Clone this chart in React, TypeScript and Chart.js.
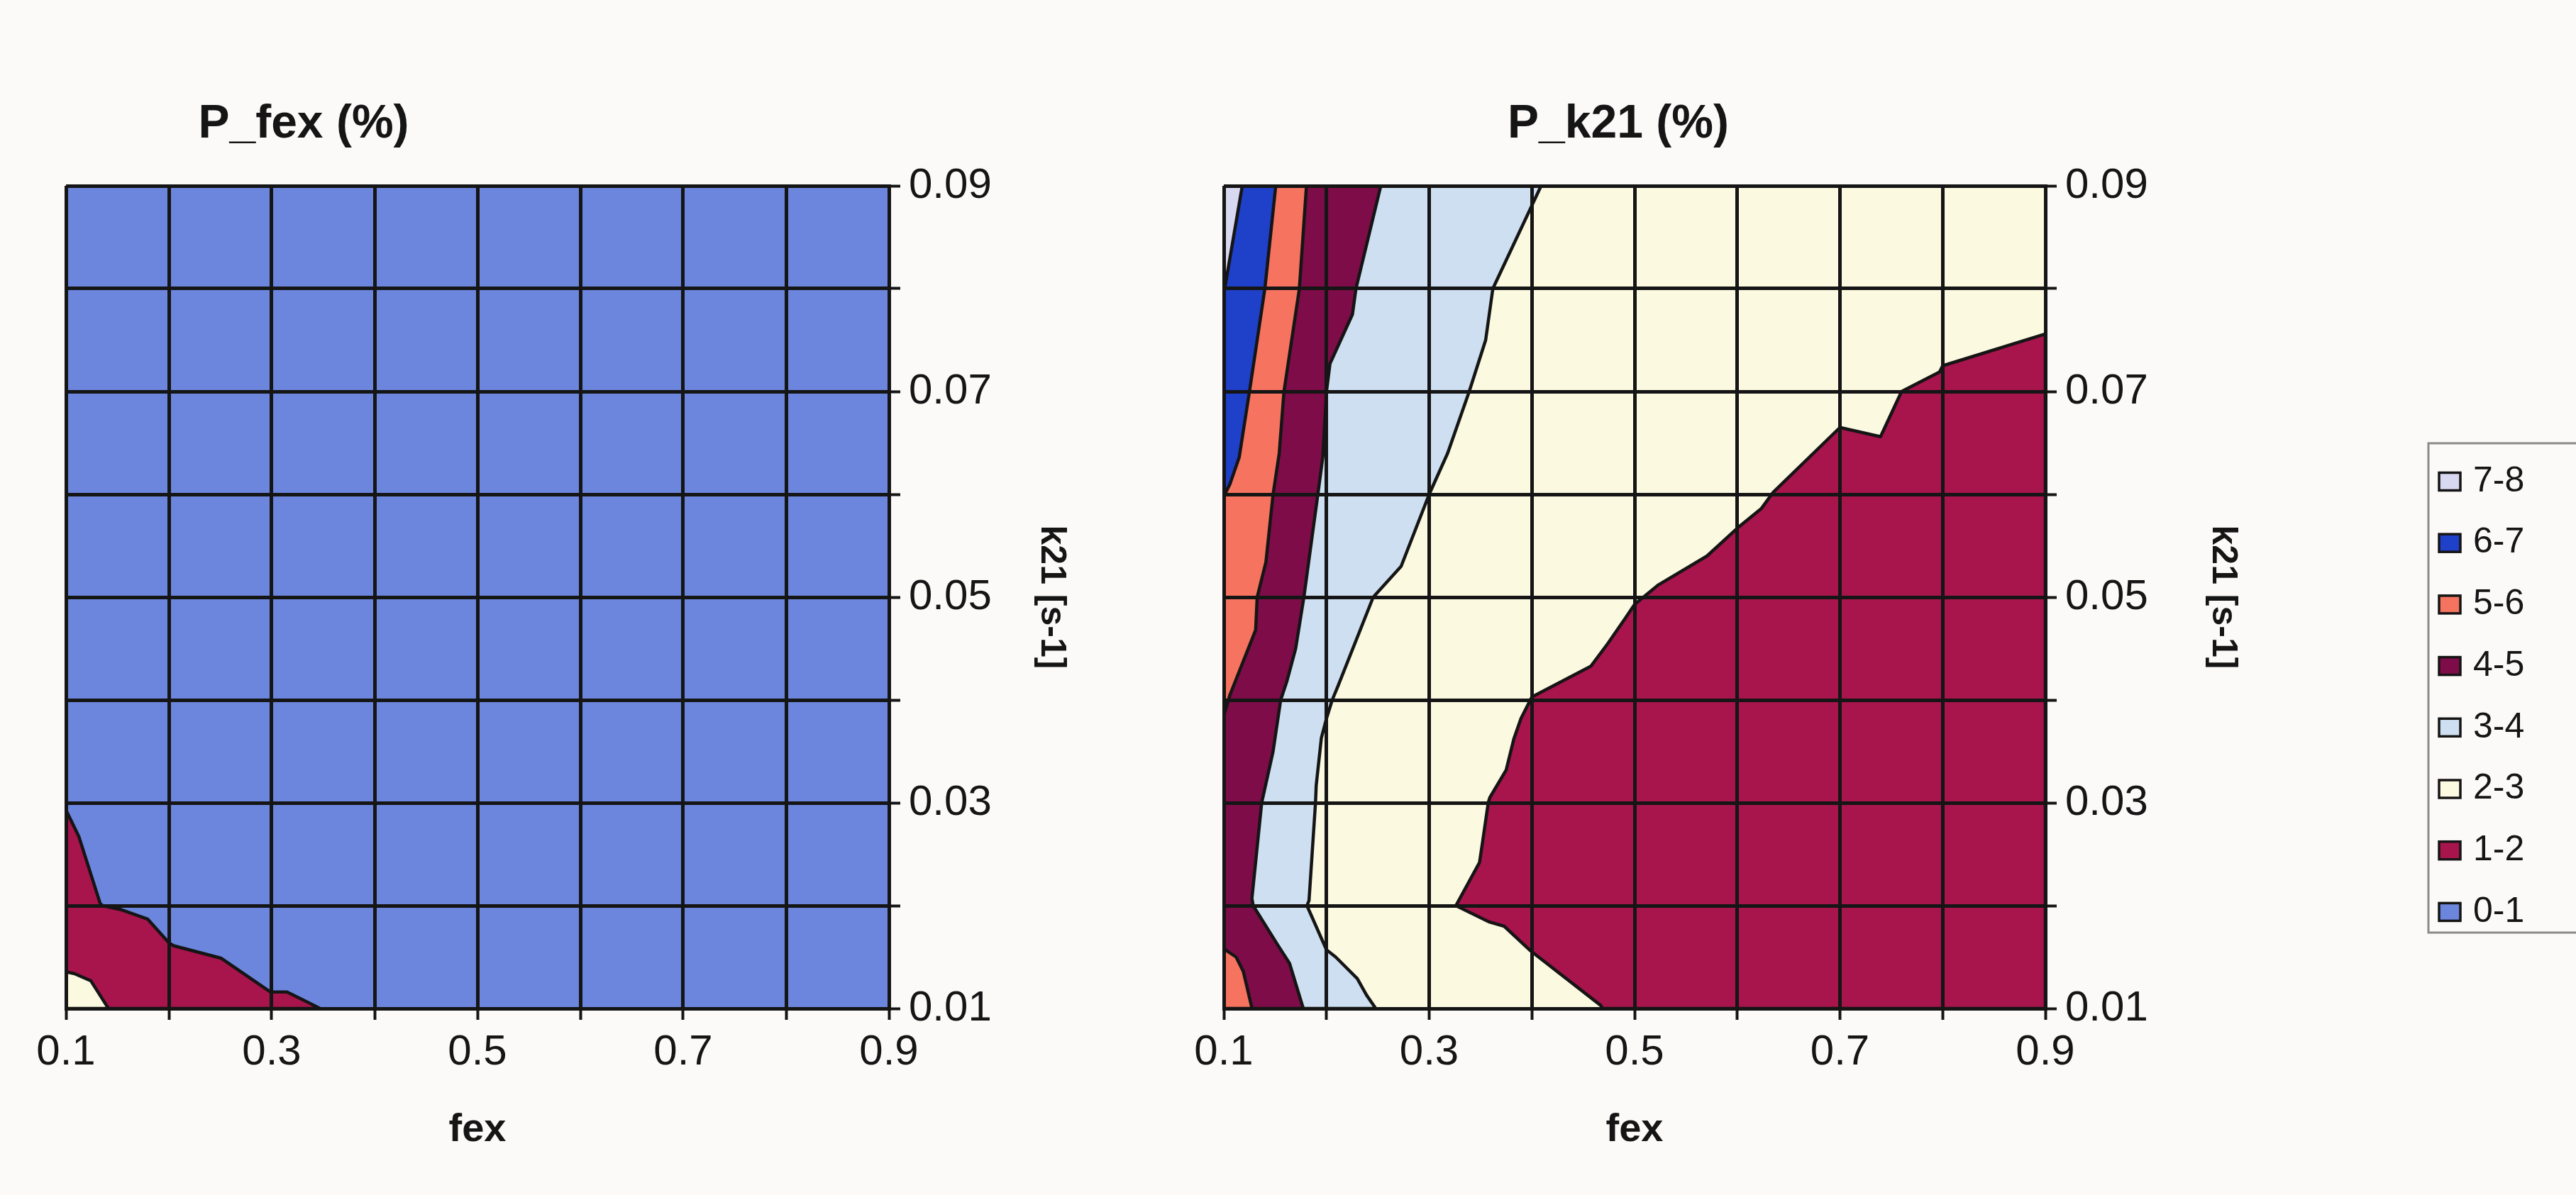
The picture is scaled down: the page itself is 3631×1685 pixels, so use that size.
import React, { useEffect, useRef } from 'react';
import { Chart, registerables } from 'chart.js';

Chart.register(...registerables);

// ---------- data ----------
const FEX_RANGE = [0.1, 0.9];
const K21_RANGE = [0.01, 0.09];
const FEX_TICK_LABELS = ['0.1', '0.3', '0.5', '0.7', '0.9'];
const K21_TICK_LABELS = ['0.01', '0.03', '0.05', '0.07', '0.09'];
const BAND_LABELS = ['0-1', '1-2', '2-3', '3-4', '4-5', '5-6', '6-7', '7-8'];

// P_fex: background band 0-1, regions where P_fex >= level (fex, k21)
const PFEX_BACKGROUND_BAND = 0;
const PFEX_GE1 = [
  [0.1, 0.0293], [0.1126, 0.0267], [0.1333, 0.0202], [0.1356, 0.02], [0.154, 0.0196],
  [0.1793, 0.0187], [0.2, 0.0164], [0.2046, 0.0161], [0.2506, 0.0149], [0.2989, 0.0116],
  [0.3149, 0.0116], [0.333, 0.0107], [0.347, 0.01], [0.1, 0.01],
];
const PFEX_GE2 = [
  [0.1, 0.01356], [0.108, 0.0134], [0.1241, 0.0127], [0.14, 0.0102], [0.1414, 0.01], [0.1, 0.01],
];

// P_k21: background band 2-3
const PK21_BACKGROUND_BAND = 2;
const PK21_LE2 = [
  [0.9, 0.0756], [0.8, 0.0725], [0.797, 0.0719], [0.76, 0.07], [0.7395, 0.0656], [0.7, 0.0665],
  [0.635, 0.0602], [0.6233, 0.0586], [0.6, 0.0567], [0.5705, 0.054], [0.5233, 0.0512], [0.5, 0.0493],
  [0.4906, 0.0479], [0.474, 0.0455], [0.4576, 0.0433], [0.4, 0.0403], [0.3894, 0.0382],
  [0.3824, 0.0362], [0.375, 0.0332], [0.359, 0.0305], [0.3575, 0.03], [0.3517, 0.026],
  [0.349, 0.0242], [0.326, 0.02], [0.3588, 0.0184], [0.373, 0.018], [0.3988, 0.0156],
  [0.467, 0.0103], [0.469, 0.01], [0.9, 0.01],
];
const PK21_GE3 = [
  [0.1, 0.09], [0.409, 0.09], [0.362, 0.08], [0.355, 0.075], [0.339, 0.07], [0.318, 0.064],
  [0.3, 0.06], [0.2727, 0.053], [0.2455, 0.05], [0.2114, 0.0414], [0.2056, 0.04], [0.2, 0.0382],
  [0.195, 0.0363], [0.19, 0.0317], [0.1893, 0.03], [0.183, 0.0205], [0.181, 0.02], [0.2, 0.0157],
  [0.209, 0.015], [0.23, 0.0129], [0.239, 0.0113], [0.248, 0.01], [0.1, 0.01],
];
const PK21_GE4 = [
  [0.1, 0.09], [0.2529, 0.09], [0.2287, 0.08], [0.2253, 0.0775], [0.2034, 0.0727], [0.2, 0.07],
  [0.1964, 0.0636], [0.1916, 0.06], [0.178, 0.05], [0.17, 0.045], [0.1614, 0.0418], [0.1554, 0.04],
  [0.148, 0.035], [0.1369, 0.03], [0.1274, 0.0207], [0.1286, 0.02], [0.1524, 0.0162],
  [0.164, 0.0144], [0.1774, 0.01], [0.1, 0.01],
];
const PK21_GE5_UPPER = [
  [0.1, 0.09], [0.1805, 0.09], [0.1736, 0.08], [0.1586, 0.07], [0.154, 0.064], [0.148, 0.06],
  [0.141, 0.0534], [0.1325, 0.05], [0.131, 0.0468], [0.106, 0.0405], [0.1, 0.0385],
];
const PK21_GE5_LOWER = [
  [0.1, 0.0158], [0.112, 0.015], [0.119, 0.0136], [0.1275, 0.01], [0.1, 0.01],
];
const PK21_GE6 = [
  [0.1, 0.09], [0.1506, 0.09], [0.14, 0.08], [0.125, 0.07], [0.115, 0.0636], [0.106, 0.061], [0.1, 0.0598],
];
const PK21_GE7 = [
  [0.1, 0.09], [0.118, 0.09], [0.1, 0.0795],
];

// ---------- styles ----------
const BAND_COLORS = ['#6b86dc', '#a8144c', '#fcf9e1', '#cddff0', '#7e0c48', '#f5735f', '#1f40c8', '#d8d8f0'];
const BG = '#fcf9f9';
const INK = '#151515';
const FONT = "'Liberation Sans', Arial, Helvetica, sans-serif";

Chart.defaults.font.family = FONT;
Chart.defaults.color = INK;

const polygonFill = {
  id: 'polygonFill',
  beforeDatasetDraw(chart: any, args: any) {
    const ds: any = chart.data.datasets[args.index];
    if (!ds.polyFill) return;
    const pts = args.meta.data;
    const { ctx, chartArea } = chart;
    ctx.save();
    ctx.beginPath();
    ctx.rect(chartArea.left, chartArea.top, chartArea.right - chartArea.left, chartArea.bottom - chartArea.top);
    ctx.clip();
    ctx.beginPath();
    pts.forEach((p: any, i: number) => (i ? ctx.lineTo(p.x, p.y) : ctx.moveTo(p.x, p.y)));
    ctx.closePath();
    ctx.fillStyle = ds.polyFill;
    ctx.fill();
    ctx.restore();
  },
};

const panelTitle = {
  id: 'panelTitle',
  afterDraw(chart: any, _args: any, opts: any) {
    if (!opts || !opts.text) return;
    const { ctx } = chart;
    ctx.save();
    ctx.font = `bold ${opts.size}px ${FONT}`;
    ctx.fillStyle = INK;
    ctx.textAlign = 'center';
    ctx.textBaseline = 'middle';
    ctx.fillText(opts.text, opts.x, opts.y);
    ctx.restore();
  },
};

const bandLegend = {
  id: 'bandLegend',
  afterDraw(chart: any, _args: any, opts: any) {
    if (!opts || !opts.display) return;
    const { ctx } = chart;
    ctx.save();
    ctx.strokeStyle = '#8a8a8a';
    ctx.lineWidth = 3;
    ctx.strokeRect(opts.left, opts.top, opts.width, opts.bottom - opts.top);
    ctx.font = `${opts.fontSize}px ${FONT}`;
    ctx.textBaseline = 'middle';
    ctx.textAlign = 'left';
    const order = BAND_LABELS.map((_, i) => i).reverse();
    order.forEach((band, k) => {
      const cy = opts.firstY + k * opts.spacing;
      ctx.fillStyle = BAND_COLORS[band];
      ctx.fillRect(opts.boxX, cy - opts.boxH / 2, opts.boxW, opts.boxH);
      ctx.strokeStyle = INK;
      ctx.lineWidth = 3.5;
      ctx.strokeRect(opts.boxX, cy - opts.boxH / 2, opts.boxW, opts.boxH);
      ctx.fillStyle = INK;
      ctx.fillText(BAND_LABELS[band], opts.textX, cy);
    });
    ctx.restore();
  },
};

function tickLabel(value: number, labels: string[]) {
  const hit = labels.find((l) => Math.abs(parseFloat(l) - value) < 1e-6);
  return hit ?? '';
}

function regionDataset(points: number[][], band: number, drawIndex: number, stroke = true) {
  const closed = [...points, points[0]];
  return {
    data: closed.map(([x, y]) => ({ x, y })),
    showLine: true,
    polyFill: BAND_COLORS[band],
    borderColor: stroke ? INK : 'rgba(0,0,0,0)',
    borderWidth: stroke ? 4.5 : 0,
    borderJoinStyle: 'round',
    pointRadius: 0,
    pointHoverRadius: 0,
    fill: false,
    tension: 0,
    order: -drawIndex,
  };
}

function backgroundRect() {
  return [
    [FEX_RANGE[0], K21_RANGE[0]], [FEX_RANGE[1], K21_RANGE[0]],
    [FEX_RANGE[1], K21_RANGE[1]], [FEX_RANGE[0], K21_RANGE[1]],
  ];
}

function buildConfig(p: {
  regions: { pts: number[][]; band: number }[];
  background: number;
  padLeft: number;
  yAxisWidth: number;
  yTitlePad: number;
  title: any;
  legend?: any;
}) {
  const datasets: any[] = [regionDataset(backgroundRect(), p.background, 0, false)];
  p.regions.forEach((r, i) => datasets.push(regionDataset(r.pts, r.band, i + 1)));
  const gridOpts = { color: INK, lineWidth: 5, z: 1, drawTicks: true, tickLength: 16, tickWidth: 4, tickColor: INK };
  return {
    type: 'scatter' as const,
    data: { datasets },
    plugins: [polygonFill, panelTitle, bandLegend],
    options: {
      animation: false,
      responsive: false,
      devicePixelRatio: 1,
      events: [],
      layout: { padding: { left: p.padLeft, top: 262, right: 0, bottom: 0 } },
      plugins: {
        legend: { display: false },
        tooltip: { enabled: false },
        panelTitle: p.title,
        bandLegend: p.legend ?? { display: false },
      },
      scales: {
        x: {
          type: 'linear',
          min: FEX_RANGE[0],
          max: FEX_RANGE[1],
          grid: gridOpts,
          border: { color: INK, width: 5, z: 1 },
          ticks: {
            stepSize: 0.1,
            autoSkip: false,
            maxRotation: 0,
            padding: 10,
            font: { size: 60 },
            color: INK,
            callback: (v: any) => tickLabel(Number(v), FEX_TICK_LABELS),
          },
          title: {
            display: true,
            text: 'fex',
            font: { size: 56, weight: 'bold' },
            color: INK,
            padding: { top: 0, bottom: 58 },
          },
          afterFit: (s: any) => { s.height = 263; },
        },
        y: {
          type: 'linear',
          position: 'right',
          min: K21_RANGE[0],
          max: K21_RANGE[1],
          grid: gridOpts,
          border: { color: INK, width: 5, z: 1 },
          ticks: {
            stepSize: 0.01,
            autoSkip: false,
            padding: 12,
            font: { size: 60 },
            color: INK,
            callback: (v: any) => tickLabel(Number(v), K21_TICK_LABELS),
          },
          title: {
            display: true,
            text: 'k21 [s-1]',
            font: { size: 50, weight: 'bold' },
            color: INK,
            padding: { top: p.yTitlePad, bottom: 0 },
          },
          afterFit: (s: any) => { s.width = p.yAxisWidth; },
        },
      },
    },
  };
}

export default function App() {
  const ref1 = useRef<HTMLCanvasElement>(null);
  const ref2 = useRef<HTMLCanvasElement>(null);

  useEffect(() => {
    document.body.style.margin = '0';
    document.body.style.background = BG;
    const c1 = new Chart(ref1.current as HTMLCanvasElement, buildConfig({
      regions: [
        { pts: PFEX_GE1, band: 1 },
        { pts: PFEX_GE2, band: 2 },
      ],
      background: PFEX_BACKGROUND_BAND,
      padLeft: 93,
      yAxisWidth: 347,
      yTitlePad: 88,
      title: { text: 'P_fex (%)', x: 428, y: 176, size: 66 },
    }) as any);
    const c2 = new Chart(ref2.current as HTMLCanvasElement, buildConfig({
      regions: [
        { pts: PK21_LE2, band: 1 },
        { pts: PK21_GE3, band: 3 },
        { pts: PK21_GE4, band: 4 },
        { pts: PK21_GE5_UPPER, band: 5 },
        { pts: PK21_GE5_LOWER, band: 5 },
        { pts: PK21_GE6, band: 6 },
        { pts: PK21_GE7, band: 7 },
      ],
      background: PK21_BACKGROUND_BAND,
      padLeft: 125,
      yAxisWidth: 748,
      yTitlePad: 468,
      title: { text: 'P_k21 (%)', x: 681, y: 176, size: 66 },
      legend: {
        display: true,
        left: 1823, top: 625, bottom: 1315, width: 260,
        firstY: 679, spacing: 86.7,
        boxX: 1838, boxW: 30, boxH: 25,
        textX: 1886, fontSize: 50,
      },
    }) as any);
    return () => { c1.destroy(); c2.destroy(); };
  }, []);

  return (
    <div style={{ position: 'relative', width: 3631, height: 1685, overflow: 'hidden', background: BG }}>
      <canvas ref={ref1} width={1600} height={1685}
        style={{ position: 'absolute', left: 0, top: 0, width: 1600, height: 1685 }} />
      <canvas ref={ref2} width={2031} height={1685}
        style={{ position: 'absolute', left: 1600, top: 0, width: 2031, height: 1685 }} />
    </div>
  );
}
